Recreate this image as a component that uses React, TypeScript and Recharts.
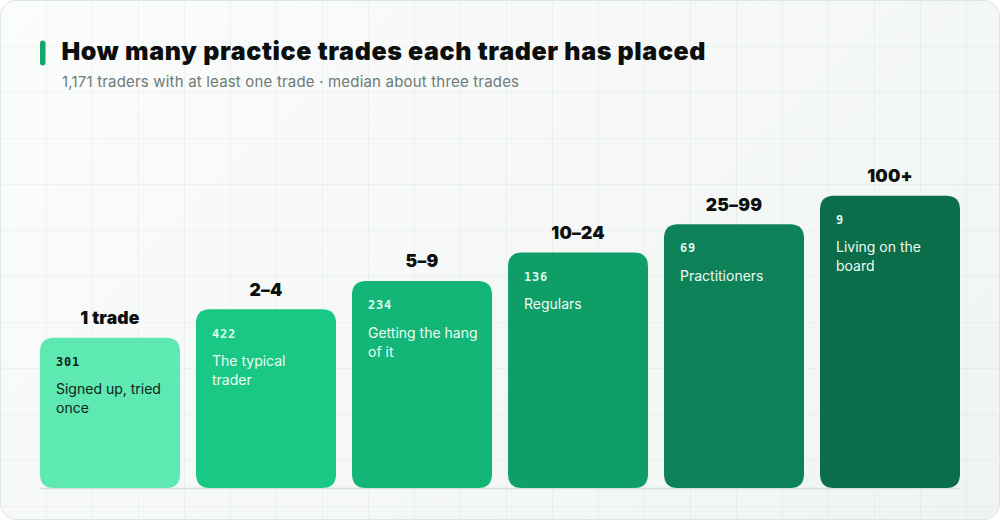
import React from "react";
import { BarChart, Bar, XAxis, YAxis } from "recharts";

const categories = ["1 trade", "2–4", "5–9", "10–24", "25–99", "100+"];
const traderCounts = [301, 422, 234, 136, 69, 9];
const tiers = [1, 2, 3, 4, 5, 6];
const descriptions = [
  ["Signed up, tried", "once"],
  ["The typical", "trader"],
  ["Getting the hang", "of it"],
  ["Regulars"],
  ["Practitioners"],
  ["Living on the", "board"],
];

const BASE_STEP = 4.29; // visual offset so the shortest step still has room for its text
const barColors = ["#5ee9b2", "#19c885", "#14b677", "#0f9e68", "#0d8157", "#0b6d49"];
const darkText = "#0f231b";
const lightText = "#eefcf5";
const lightNum = "#dff7ea";

const data = categories.map((c, i) => ({
  category: c,
  count: traderCounts[i],
  tier: tiers[i],
  stepValue: tiers[i] + BASE_STEP,
  desc: descriptions[i],
}));

const FONT = "Inter, 'Noto Sans', sans-serif";
const MONO = "'DejaVu Sans Mono', 'Liberation Mono', monospace";

function roundedRect(x: number, y: number, w: number, h: number, r: number) {
  return `M${x + r},${y} H${x + w - r} Q${x + w},${y} ${x + w},${y + r} V${y + h - r} Q${x + w},${y + h} ${x + w - r},${y + h} H${x + r} Q${x},${y + h} ${x},${y + h - r} V${y + r} Q${x},${y} ${x + r},${y} Z`;
}

const StepShape = (props: any) => {
  const { x, y, width, height, index, payload } = props;
  const last = index === data.length - 1;
  const bottom = y + height;
  const isDark = index === 0;
  const numColor = isDark ? darkText : lightNum;
  const txtColor = isDark ? darkText : lightText;
  return (
    <g>
      <line
        x1={x - (index === 0 ? 0 : 8)}
        x2={x + width + (last ? 0 : 8)}
        y1={bottom + 0.5}
        y2={bottom + 0.5}
        stroke="#d6e0dc"
        strokeWidth={1.5}
      />
      <path d={roundedRect(x, y, width, height, 14)} fill={barColors[index]} />
      <text
        x={x + width / 2}
        y={y - 13.5}
        textAnchor="middle"
        fontFamily={FONT}
        fontWeight={900}
        fontSize={17.5}
        letterSpacing={0.2}
        fill="#0d0f0e"
      >
        {payload.category}
      </text>
      <text
        x={x + 16}
        y={y + 28.3}
        fontFamily={MONO}
        fontWeight={700}
        fontSize={12}
        letterSpacing={0.8}
        fill={numColor}
      >
        {payload.count}
      </text>
      {payload.desc.map((line: string, j: number) => (
        <text
          key={j}
          x={x + 16}
          y={y + 56.6 + j * 19}
          fontFamily={FONT}
          fontSize={14}
          fill={txtColor}
        >
          {line}
        </text>
      ))}
    </g>
  );
};

export default function App() {
  return (
    <div style={{ position: "absolute", left: 0, top: 0, width: 1000, height: 520 }}>
      <div
        style={{
          position: "absolute",
          inset: 0,
          boxSizing: "border-box",
          border: "1px solid #dde6e2",
          borderRadius: 16,
          overflow: "hidden",
          backgroundColor: "#f6f8f7",
          backgroundImage:
            "linear-gradient(rgba(20,70,50,0.045) 1px, transparent 1px), linear-gradient(90deg, rgba(20,70,50,0.045) 1px, transparent 1px), linear-gradient(135deg, #fbfcfc 0%, #f5f8f7 55%, #eff4f2 100%)",
          backgroundSize: "46px 46px, 46px 46px, 100% 100%",
          backgroundPosition: "-1px -1px, -1px -1px, 0 0",
        }}
      />
      <svg
        width={1000}
        height={520}
        style={{ position: "absolute", left: 0, top: 0 }}
      >
        <rect x={40} y={40.5} width={5.5} height={25} rx={2.75} fill="#17a56c" />
        <text
          x={61.5}
          y={60}
          fontFamily={FONT}
          fontWeight={900}
          fontSize={25}
          textLength={644}
          lengthAdjust="spacing"
          fill="#0c0f0e"
        >
          How many practice trades each trader has placed
        </text>
        <text
          x={62}
          y={87.3}
          fontFamily={FONT}
          fontSize={15}
          textLength={457}
          lengthAdjust="spacing"
          fill="#6d7a75"
        >
          1,171 traders with at least one trade · median about three trades
        </text>
      </svg>
      <div style={{ position: "absolute", left: 0, top: 0 }}>
        <BarChart
          width={1000}
          height={520}
          data={data}
          margin={{ top: 147.2, right: 32, bottom: 32, left: 32 }}
          barSize={140}
        >
          <XAxis dataKey="category" hide />
          <YAxis hide domain={[0, 12]} />
          <Bar dataKey="stepValue" isAnimationActive={false} shape={<StepShape />} />
        </BarChart>
      </div>
    </div>
  );
}
